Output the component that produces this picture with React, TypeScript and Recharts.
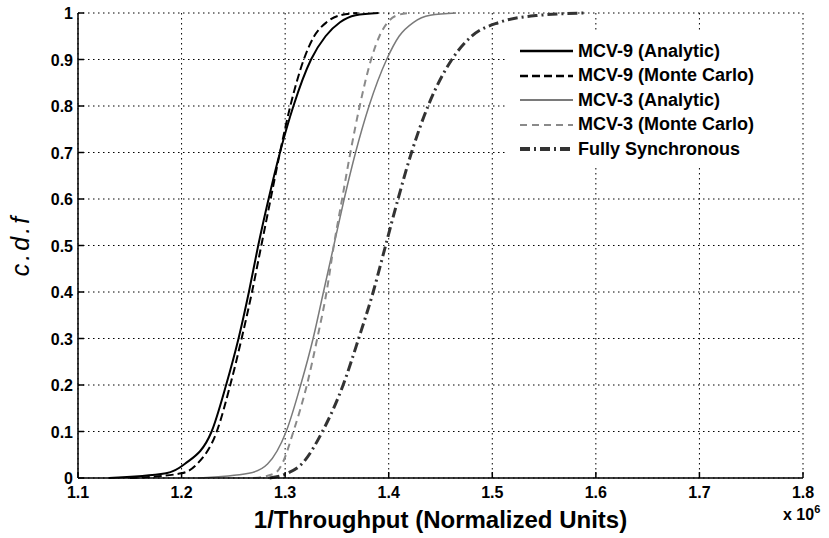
import { LineChart, Line, XAxis, YAxis, CartesianGrid, Legend } from 'recharts';

const FONT = '"Liberation Sans", Arial, Helvetica, sans-serif';

// cdf levels shared by every curve; each series lists the x reached at that level
const cdfLevels = [0, 0.01, 0.03, 0.1, 0.2, 0.3, 0.4, 0.5, 0.6, 0.7, 0.8, 0.9, 0.95, 0.98, 0.995, 1];

const mcv9Analytic = [1.13, 1.185, 1.203, 1.229, 1.243, 1.255, 1.265, 1.274, 1.284, 1.295, 1.308, 1.325, 1.339, 1.353, 1.368, 1.39];
const mcv9MonteCarlo = [1.15, 1.2, 1.215, 1.234, 1.247, 1.258, 1.268, 1.277, 1.286, 1.295, 1.305, 1.318, 1.328, 1.34, 1.353, 1.37];
const mcv3Analytic = [1.217, 1.265, 1.283, 1.301, 1.315, 1.327, 1.337, 1.347, 1.357, 1.368, 1.381, 1.398, 1.41, 1.424, 1.44, 1.465];
const mcv3MonteCarlo = [1.27, 1.29, 1.297, 1.308, 1.321, 1.331, 1.34, 1.347, 1.355, 1.363, 1.372, 1.383, 1.391, 1.399, 1.408, 1.42];
const fullySync = [1.285, 1.302, 1.316, 1.336, 1.356, 1.371, 1.385, 1.397, 1.409, 1.422, 1.438, 1.461, 1.48, 1.507, 1.545, 1.59];

const xTicks = [1.1, 1.2, 1.3, 1.4, 1.5, 1.6, 1.7, 1.8];
const yTicks = [0, 0.1, 0.2, 0.3, 0.4, 0.5, 0.6, 0.7, 0.8, 0.9, 1];

const toPoints = (xs: number[]) => xs.map((x, i) => ({ x, y: cdfLevels[i] }));

const series = [
  { name: 'MCV-9 (Analytic)', values: mcv9Analytic, color: '#000', width: 2, dash: undefined, legendWidth: 2.5 },
  { name: 'MCV-9 (Monte Carlo)', values: mcv9MonteCarlo, color: '#000', width: 2, dash: '8 4', legendWidth: 2.5 },
  { name: 'MCV-3 (Analytic)', values: mcv3Analytic, color: '#7a7a7a', width: 1.5, dash: undefined, legendWidth: 2 },
  { name: 'MCV-3 (Monte Carlo)', values: mcv3MonteCarlo, color: '#8a8a8a', width: 2, dash: '7 5', legendWidth: 2 },
  { name: 'Fully Synchronous', values: fullySync, color: '#333', width: 3, dash: '10 4 2 4', legendWidth: 4 },
];

const tickText = { fontSize: 16, fontWeight: 'bold' as const, fontFamily: FONT, fill: '#000' };

function BottomTick({ x, y, payload }: any) {
  return (
    <g>
      <line x1={x} y1={y} x2={x} y2={y - 6} stroke="#000" strokeWidth={1.5} />
      <text x={x} y={y + 20} textAnchor="middle" {...tickText}>{payload.value}</text>
    </g>
  );
}

function TopTick({ x, y }: any) {
  return <line x1={x} y1={y} x2={x} y2={y + 6} stroke="#000" strokeWidth={1.5} />;
}

function LeftTick({ x, y, payload }: any) {
  return (
    <g>
      <line x1={x} y1={y} x2={x + 6} y2={y} stroke="#000" strokeWidth={1.5} />
      <text x={x - 5} y={y + 6} textAnchor="end" {...tickText}>{payload.value}</text>
    </g>
  );
}

function RightTick({ x, y }: any) {
  return <line x1={x} y1={y} x2={x - 6} y2={y} stroke="#000" strokeWidth={1.5} />;
}

function XTitle({ viewBox }: any) {
  const { x, y, width } = viewBox;
  return (
    <g>
      <text x={x + width / 2} y={y + 50} textAnchor="middle" fontSize={24} fontWeight="bold" fontFamily={FONT} fill="#000">
        1/Throughput (Normalized Units)
      </text>
      <text x={783} y={y + 42} fontSize={16} fontWeight="bold" fontFamily={FONT} fill="#000">
        x 10
        <tspan fontSize={11} dy={-7}>6</tspan>
      </text>
    </g>
  );
}

function YTitle() {
  return (
    <text x={29} y={245} transform="rotate(-90, 29, 245)" textAnchor="middle" fontSize={25} fontStyle="italic"
      letterSpacing={3} fontFamily={FONT} fill="#000">
      c.d.f
    </text>
  );
}

function LegendBox() {
  return (
    <div style={{ background: '#fff', width: 293, height: 135, paddingTop: 9, boxSizing: 'border-box' }}>
      {series.map((s) => (
        <div key={s.name} style={{ height: 24.5, display: 'flex', alignItems: 'center' }}>
          <svg width={71} height={24} style={{ flex: 'none' }}>
            <line x1={13} y1={12} x2={66} y2={12} stroke={s.color} strokeWidth={s.legendWidth} strokeDasharray={s.dash} />
          </svg>
          <span style={{ fontFamily: FONT, fontWeight: 'bold', fontSize: 18, color: '#000', whiteSpace: 'nowrap' }}>{s.name}</span>
        </div>
      ))}
    </div>
  );
}

export default function App() {
  return (
    <div style={{ position: 'absolute', left: 0, top: 0, background: '#fff' }}>
      <LineChart width={829} height={538} margin={{ top: 13, right: 26, left: 0, bottom: 0 }}>
        <CartesianGrid stroke="#000" strokeDasharray="1.5 3.5" strokeWidth={1} />
        <XAxis dataKey="x" type="number" domain={[1.1, 1.8]} ticks={xTicks} allowDataOverflow height={60}
          tickSize={0} tickMargin={0} tickLine={false} axisLine={{ stroke: '#000', strokeWidth: 1.5 }}
          tick={<BottomTick />} interval={0} label={{ content: <XTitle /> } as any} />
        <XAxis xAxisId="top" orientation="top" dataKey="x" type="number" domain={[1.1, 1.8]} ticks={xTicks}
          allowDataOverflow height={0} tickSize={0} tickMargin={0} tickLine={false}
          axisLine={{ stroke: '#000', strokeWidth: 1.5 }} tick={<TopTick />} interval={0} />
        <YAxis type="number" domain={[0, 1]} ticks={yTicks} width={78} tickSize={0} tickMargin={0} tickLine={false}
          axisLine={{ stroke: '#000', strokeWidth: 1.5 }} tick={<LeftTick />} interval={0}
          label={{ content: <YTitle /> } as any} />
        <YAxis yAxisId="right" orientation="right" type="number" domain={[0, 1]} ticks={yTicks} width={0}
          tickSize={0} tickMargin={0} tickLine={false} axisLine={{ stroke: '#000', strokeWidth: 1.5 }}
          tick={<RightTick />} interval={0} />
        {series.map((s) => (
          <Line key={s.name} data={toPoints(s.values)} dataKey="y" name={s.name} type="monotone"
            stroke={s.color} strokeWidth={s.width} strokeDasharray={s.dash} dot={false} activeDot={false}
            isAnimationActive={false} />
        ))}
        <Legend layout="horizontal" verticalAlign="middle" align="center" content={<LegendBox />}
          wrapperStyle={{ top: 30, left: 507, width: 293, height: 135 }} />
      </LineChart>
    </div>
  );
}
